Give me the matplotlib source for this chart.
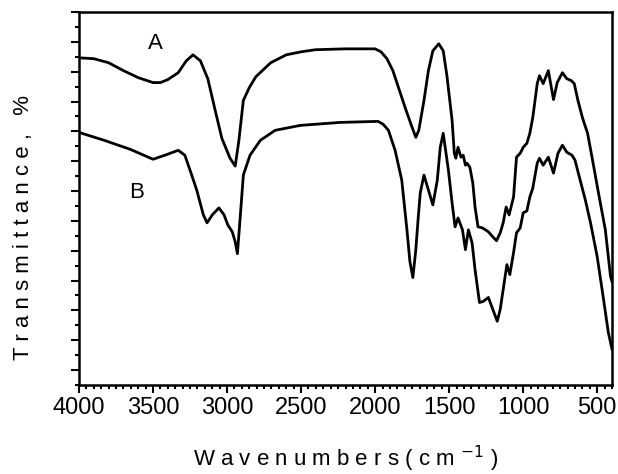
import numpy as np
import matplotlib.pyplot as plt
from matplotlib.ticker import MultipleLocator

plt.rcParams['font.family'] = ['Liberation Sans', 'DejaVu Sans']

# spectrum A (upper curve): wavenumber (cm-1) and transmittance (arb. units)
wn_a = [4000, 3900, 3800, 3700, 3600, 3500, 3450, 3400, 3330, 3275, 3230,
        3180, 3130, 3080, 3035, 2980, 2945, 2920, 2890, 2850, 2805, 2705,
        2600, 2500, 2405, 2205, 2000, 1960, 1920, 1880, 1840, 1795, 1755,
        1725, 1705, 1670, 1640, 1610, 1570, 1540, 1515, 1480, 1465, 1455,
        1440, 1420, 1405, 1390, 1380, 1360, 1340, 1325, 1305, 1275, 1235,
        1205, 1180, 1155, 1135, 1115, 1095, 1065, 1045, 1020, 1000, 975,
        955, 935, 905, 890, 865, 830, 795, 770, 735, 705, 675, 655, 630,
        600, 565, 535, 495, 445, 410, 400]
t_a = [21.93, 21.87, 21.60, 21.07, 20.60, 20.27, 20.27, 20.47, 20.93, 21.73,
       22.13, 21.73, 20.53, 18.40, 16.53, 15.20, 14.67, 16.40, 19.07, 19.93,
       20.67, 21.60, 22.13, 22.33, 22.47, 22.53, 22.53, 22.33, 21.87, 21.07,
       19.87, 18.53, 17.40, 16.60, 17.07, 19.07, 21.07, 22.40, 22.87, 22.40,
       20.73, 17.73, 15.53, 15.20, 15.93, 15.27, 15.40, 14.73, 14.87, 14.60,
       13.53, 11.93, 10.60, 10.53, 10.27, 9.93, 9.67, 10.20, 10.87, 11.93,
       11.40, 12.60, 15.27, 15.53, 15.93, 16.20, 16.87, 17.93, 20.20, 20.73,
       20.20, 21.07, 19.13, 20.27, 20.93, 20.53, 20.40, 20.20, 19.07, 17.93,
       16.87, 15.27, 13.07, 10.40, 7.27, 6.93]

# spectrum B (lower curve)
wn_b = [4000, 3830, 3655, 3500, 3420, 3330, 3285, 3250, 3205, 3160, 3135,
        3100, 3055, 3020, 2995, 2965, 2945, 2930, 2910, 2890, 2845, 2775,
        2675, 2505, 2235, 1980, 1945, 1910, 1865, 1820, 1785, 1765, 1745,
        1725, 1710, 1695, 1670, 1640, 1610, 1580, 1560, 1540, 1505, 1480,
        1460, 1440, 1410, 1390, 1370, 1345, 1325, 1295, 1270, 1235, 1210,
        1175, 1155, 1135, 1110, 1090, 1065, 1045, 1020, 1000, 975, 955, 935,
        905, 890, 865, 830, 795, 765, 735, 705, 670, 650, 615, 580, 545,
        500, 460, 425, 400]
t_b = [16.93, 16.40, 15.80, 15.13, 15.40, 15.73, 15.40, 14.40, 13.07, 11.40,
       10.87, 11.40, 11.87, 11.40, 10.73, 10.27, 9.60, 8.80, 11.40, 14.07,
       15.40, 16.40, 17.07, 17.40, 17.60, 17.67, 17.47, 17.07, 15.73, 13.73,
       10.40, 8.27, 7.20, 9.07, 11.07, 12.87, 14.07, 13.07, 12.07, 13.73,
       15.93, 16.87, 14.40, 12.20, 10.60, 11.20, 10.40, 9.07, 10.40, 9.53,
       7.73, 5.53, 5.60, 5.87, 5.20, 4.27, 5.07, 6.40, 8.07, 7.40, 8.87,
       10.20, 10.53, 11.53, 11.67, 12.60, 13.20, 14.87, 15.20, 14.73, 15.27,
       14.20, 15.53, 16.07, 15.60, 15.40, 15.07, 13.73, 12.40, 10.87, 8.60,
       5.93, 3.53, 2.40]

fig = plt.figure(figsize=(6.18, 4.74), dpi=100)
ax = fig.add_axes([79 / 618, 1 - 385 / 474, (612 - 79) / 618, (385 - 12) / 474])

ax.plot(wn_a, t_a, color="black", lw=2.0, solid_joinstyle="round")
ax.plot(wn_b, t_b, color="black", lw=2.0, solid_joinstyle="round")

ax.text(3485, 22.87, "A", fontsize=16, ha="center", va="center")
ax.text(3610, 12.87, "B", fontsize=16, ha="center", va="center")

ax.set_xlim(4000, 400)
ax.set_ylim(0, 25)
ax.xaxis.set_major_locator(MultipleLocator(500))
ax.xaxis.set_minor_locator(MultipleLocator(50))
ax.yaxis.set_major_locator(MultipleLocator(2, offset=1))
ax.yaxis.set_minor_locator(MultipleLocator(1))
ax.tick_params(which="both", direction="out", top=False, right=False, width=1.5)
ax.tick_params(which="major", length=6)
ax.tick_params(which="minor", length=3)
ax.tick_params(axis="x", labelsize=17, pad=3)
ax.tick_params(axis="y", labelleft=False)
for sp in ax.spines.values():
    sp.set_linewidth(1.8)

fig.text(346 / 618, 1 - 466 / 474,
         "W a v e n u m b e r s ( c m $^{-1}$ )",
         fontsize=16, ha="center", va="baseline")
fig.text(24 / 618, 1 - 227 / 474,
         "T r a n s m i t t a n c e ,   %",
         fontsize=16, ha="center", va="center", rotation=90)

fig.savefig("out.png", dpi=100)
